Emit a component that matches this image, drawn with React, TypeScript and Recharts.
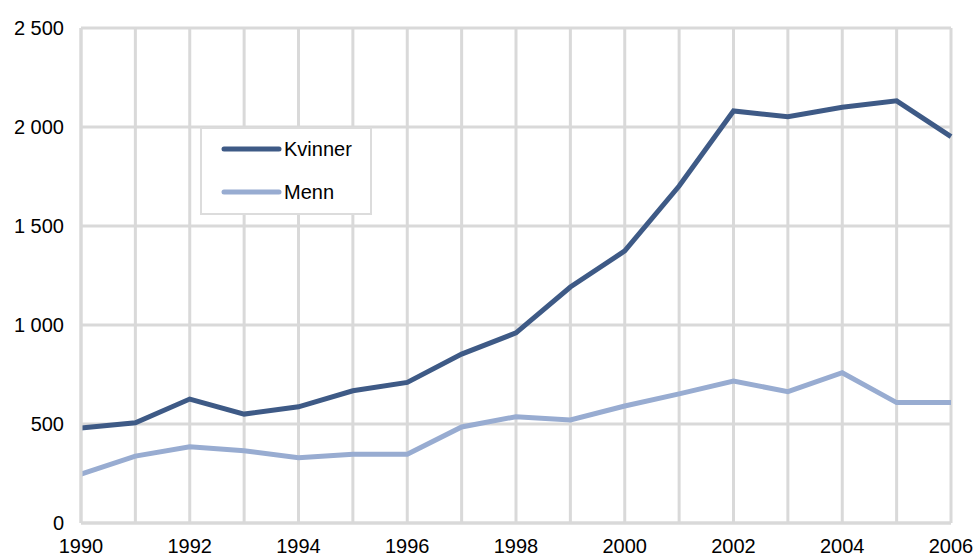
import React from 'react';
import { LineChart, Line, XAxis, YAxis, CartesianGrid, Legend } from 'recharts';

const years = [1990, 1991, 1992, 1993, 1994, 1995, 1996, 1997, 1998, 1999, 2000, 2001, 2002, 2003, 2004, 2005, 2006];
const kvinner = [480, 506, 626, 550, 587, 668, 710, 853, 960, 1192, 1374, 1702, 2081, 2052, 2100, 2132, 1951];
const menn = [247, 338, 385, 365, 330, 347, 347, 485, 537, 520, 591, 652, 717, 663, 759, 608, 608];
const yTicks = [0, 500, 1000, 1500, 2000, 2500];

const data = years.map((y, i) => ({ year: y, Kvinner: kvinner[i], Menn: menn[i] }));

const fmt = (v: number) => {
  const s = String(v);
  return s.length > 3 ? s.slice(0, s.length - 3) + '\u00a0' + s.slice(-3) : s;
};

const FONT = '"Liberation Sans", Arial, sans-serif';

const LegendContent = (props: any) => {
  const items = props.payload || [];
  return (
    <div style={{ width: 172, height: 88, boxSizing: 'border-box', border: '2px solid #dcdcdc', background: '#fff', position: 'relative', fontFamily: FONT }}>
      {items.map((it: any, i: number) => (
        <div key={it.value} style={{ position: 'absolute', left: 18, top: 8 + i * 43, height: 24, display: 'flex', alignItems: 'center' }}>
          <svg width={64} height={10}>
            <line x1={4} y1={5} x2={59} y2={5} stroke={it.color} strokeWidth={5} strokeLinecap="round" />
          </svg>
          <span style={{ fontSize: 20, color: '#000' }}>{it.value}</span>
        </div>
      ))}
    </div>
  );
};

export default function App() {
  return (
    <div style={{ position: 'absolute', left: 0, top: 0, width: 976, height: 557, background: '#fff' }}>
      <LineChart width={976} height={557} data={data} margin={{ top: 28, right: 25, bottom: 0, left: 8 }}>
        <CartesianGrid stroke="#d9d9d9" strokeWidth={3} />
        <XAxis
          dataKey="year"
          type="number"
          domain={[1990, 2006]}
          ticks={years}
          interval={0}
          tickFormatter={(v: number) => (v % 2 === 0 ? String(v) : '')}
          axisLine={{ stroke: '#d9d9d9', strokeWidth: 3 }}
          tickLine={false}
          tickSize={0}
          tickMargin={16}
          height={34}
          tick={{ fill: '#000', fontSize: 20, fontFamily: FONT }}
        />
        <YAxis
          domain={[0, 2500]}
          ticks={yTicks}
          interval={0}
          tickFormatter={fmt}
          axisLine={{ stroke: '#d9d9d9', strokeWidth: 3 }}
          tickLine={false}
          tickSize={0}
          tickMargin={17}
          width={73}
          tick={{ fill: '#000', fontSize: 20, fontFamily: FONT }}
        />
        <Legend
          content={<LegendContent />}
          layout="vertical"
          wrapperStyle={{ position: 'absolute', left: 200, top: 127, width: 0, height: 0, overflow: 'visible' }}
        />
        <Line type="linear" dataKey="Kvinner" stroke="#3e5a86" strokeWidth={5} dot={false} isAnimationActive={false} />
        <Line type="linear" dataKey="Menn" stroke="#98acd1" strokeWidth={5} dot={false} isAnimationActive={false} />
      </LineChart>
    </div>
  );
}
